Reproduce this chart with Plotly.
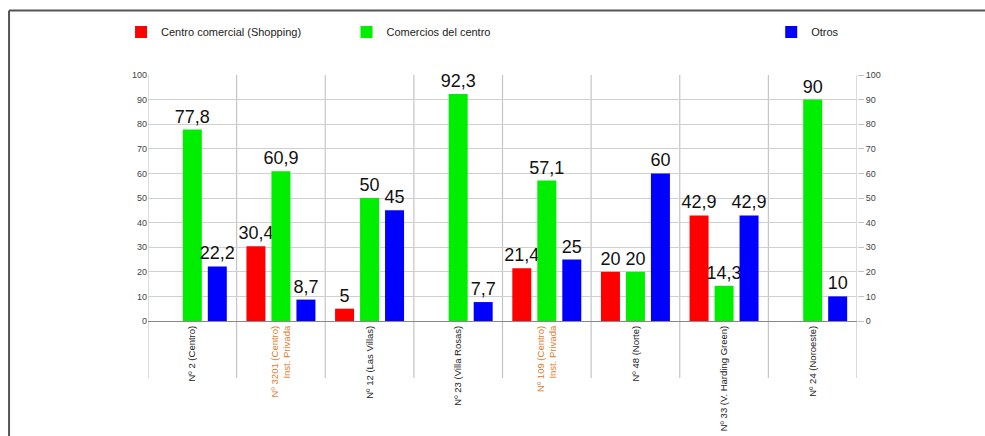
import plotly.graph_objects as go

# Categories (schools) and their label colours
categorias = ["Nº 2 (Centro)", "Nº 3201 (Centro)<br>Inst. Privada", "Nº 12 (Las Villas)",
              "Nº 23 (Villa Rosas)", "Nº 109 (Centro)<br>Inst. Privada", "Nº 48 (Norte)",
              "Nº 33 (V. Harding Green)", "Nº 24 (Noroeste)"]
colores_etiqueta = ["#222222", "#e07b1f", "#222222", "#222222", "#e07b1f", "#222222",
                    "#222222", "#222222"]

# Percentages per category
shopping = [None, 30.4, 5, None, 21.4, 20, 42.9, None]
centro = [77.8, 60.9, 50, 92.3, 57.1, 20, 14.3, 90]
otros = [22.2, 8.7, 45, 7.7, 25, 60, 42.9, 10]

series = [
    ("Centro comercial (Shopping)", shopping, "#ff0000", "legend"),
    ("Comercios del centro", centro, "#00ee00", "legend2"),
    ("Otros", otros, "#0000ff", "legend3"),
]

x_idx = list(range(len(categorias)))


def fmt(v):
    return "" if v is None else f"{v:g}".replace(".", ",")


fig = go.Figure()
for nombre, vals, color, leg in series:
    fig.add_trace(go.Bar(
        x=x_idx, y=vals, name=nombre, marker_color=color, marker_line_width=0,
        text=[fmt(v) for v in vals], textposition="outside", constraintext="none",
        cliponaxis=False, textfont=dict(size=18, color="#111111", family="Liberation Sans"),
        legend=leg,
    ))

# Secondary axis on the right mirrors the 0-100 scale
fig.add_trace(go.Scatter(x=[x_idx[0]], y=[0], yaxis="y2", mode="markers",
                         marker=dict(opacity=0), showlegend=False, hoverinfo="skip"))

# Category dividers, extended below the plot area through the label band
shapes = []
for i in range(len(categorias) + 1):
    shapes.append(dict(type="line", xref="x", yref="paper", x0=i - 0.5, x1=i - 0.5,
                       y0=-0.232, y1=1, line=dict(color="#c4c4c4", width=1.2), layer="below"))
# Outer frame (top and left edges)
shapes.append(dict(type="line", xref="paper", yref="paper", x0=-0.196, x1=1.2,
                   y0=1.262, y1=1.262, line=dict(color="#555555", width=2)))
shapes.append(dict(type="line", xref="paper", yref="paper", x0=-0.196, x1=-0.196,
                   y0=1.262, y1=-0.5, line=dict(color="#555555", width=2)))

ticktext = [f"<span style='color:{c}'>{t}</span>" for t, c in zip(categorias, colores_etiqueta)]

legend_font = dict(size=11, color="#222222", family="Liberation Sans")
leg_common = dict(orientation="h", yanchor="middle", y=1.175, xanchor="left",
                  bgcolor="rgba(0,0,0,0)", font=legend_font)

fig.update_layout(
    width=985, height=436,
    margin=dict(l=148, r=128, t=75, b=115),
    paper_bgcolor="white", plot_bgcolor="white",
    barmode="group", bargap=0.154, bargroupgap=0.24,
    font=dict(family="Liberation Sans", color="#444444"),
    shapes=shapes,
    legend=dict(x=-0.038, **leg_common),
    legend2=dict(x=0.280, **leg_common),
    legend3=dict(x=0.879, **leg_common),
    xaxis=dict(range=[-0.5, len(categorias) - 0.5], tickmode="array", tickvals=x_idx,
               ticktext=ticktext, tickangle=-90, tickfont=dict(size=9.5),
               showgrid=False, showline=True, linecolor="#888888", linewidth=1,
               zeroline=False, ticks="", automargin=False),
    yaxis=dict(range=[0, 100], dtick=10, showgrid=True, gridcolor="#d0d0d0", gridwidth=1,
               zeroline=False, tickfont=dict(size=9, color="#444444"), ticks="",
               showline=False, automargin=False),
    yaxis2=dict(range=[0, 100], dtick=10, overlaying="y", side="right", showgrid=False,
                zeroline=False, ticks="outside", ticklen=6, tickcolor="#c4c4c4",
                tickfont=dict(size=9, color="#444444"), showline=False, automargin=False),
)

fig.write_html("out.html")
